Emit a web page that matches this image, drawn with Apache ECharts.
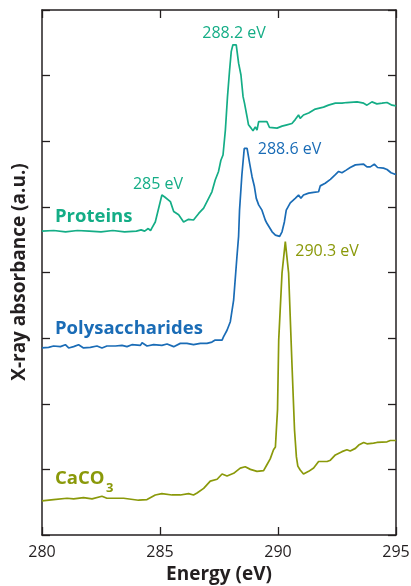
<!DOCTYPE html>
<html>
<head>
<meta charset="utf-8">
<script src="https://cdn.jsdelivr.net/npm/echarts@6/dist/echarts.min.js"></script>
<style>
  html, body { margin: 0; padding: 0; background: #fff; }
  #main { width: 411px; height: 586px; }
</style>
</head>
<body>
<div id="main"></div>
<script>
// spectra: [energy (eV), absorbance (a.u.)]
var proteins = [[280.0,4.63],[280.5,4.64],[281.0,4.62],[281.5,4.64],[282.0,4.63],[282.5,4.62],[283.0,4.64],[283.5,4.62],[284.0,4.63],[284.2,4.65],[284.35,4.63],[284.5,4.67],[284.6,4.64],[284.66,4.68],[284.8,4.77],[285.08,5.18],[285.2,5.15],[285.44,5.08],[285.58,4.93],[285.79,4.88],[286.0,4.77],[286.21,4.81],[286.42,4.80],[286.64,4.90],[286.85,4.98],[287.06,5.13],[287.2,5.23],[287.34,5.41],[287.48,5.54],[287.58,5.71],[287.67,5.79],[287.77,6.17],[287.86,6.68],[287.95,7.09],[288.02,7.37],[288.09,7.47],[288.23,7.47],[288.33,7.19],[288.43,7.01],[288.52,6.68],[288.58,6.58],[288.69,6.37],[288.75,6.25],[288.86,6.20],[288.94,6.16],[289.04,6.22],[289.11,6.17],[289.18,6.30],[289.53,6.30],[289.64,6.21],[289.96,6.20],[290.17,6.23],[290.38,6.25],[290.59,6.27],[290.73,6.33],[290.87,6.40],[290.94,6.35],[291.08,6.40],[291.3,6.43],[291.58,6.49],[291.65,6.50],[291.93,6.52],[292.14,6.55],[292.43,6.58],[292.71,6.58],[292.92,6.59],[293.35,6.60],[293.63,6.58],[293.77,6.55],[293.98,6.60],[294.19,6.57],[294.41,6.58],[294.62,6.59],[294.83,6.55],[295.0,6.54]];

var polysaccharides = [[280.0,2.85],[280.07,2.82],[280.28,2.86],[280.49,2.88],[280.78,2.87],[280.99,2.90],[281.13,2.85],[281.34,2.87],[281.55,2.90],[281.76,2.85],[282.05,2.86],[282.33,2.88],[282.54,2.85],[282.75,2.88],[283.11,2.88],[283.39,2.89],[283.6,2.87],[283.81,2.90],[284.17,2.89],[284.24,2.93],[284.45,2.88],[284.73,2.90],[285.08,2.89],[285.3,2.91],[285.58,2.87],[285.86,2.92],[286.14,2.92],[286.42,2.90],[286.71,2.92],[286.99,2.92],[287.2,2.94],[287.34,2.97],[287.63,2.97],[287.69,3.02],[287.84,3.12],[287.98,3.25],[288.12,3.58],[288.26,4.24],[288.33,4.55],[288.37,4.95],[288.47,5.49],[288.57,5.89],[288.69,5.89],[288.8,5.66],[288.9,5.46],[289.0,5.31],[289.08,5.13],[289.18,5.03],[289.32,4.95],[289.46,4.80],[289.53,4.75],[289.75,4.62],[289.89,4.57],[289.96,4.60],[290.07,4.55],[290.17,4.62],[290.27,4.77],[290.35,4.95],[290.52,5.06],[290.73,5.13],[290.87,5.18],[290.97,5.13],[291.08,5.18],[291.3,5.21],[291.51,5.22],[291.72,5.23],[291.79,5.32],[292.0,5.36],[292.22,5.42],[292.43,5.49],[292.57,5.54],[292.71,5.52],[292.89,5.56],[293.06,5.60],[293.28,5.64],[293.63,5.65],[293.77,5.61],[293.91,5.61],[294.08,5.65],[294.22,5.60],[294.47,5.59],[294.62,5.57],[294.79,5.52],[294.93,5.50],[295.0,5.50]];

var caco3 = [[280.0,0.52],[280.07,0.52],[280.49,0.54],[281.06,0.56],[281.34,0.55],[281.76,0.57],[282.12,0.55],[282.54,0.59],[282.75,0.56],[283.46,0.56],[284.09,0.53],[284.45,0.54],[284.8,0.61],[285.08,0.63],[285.51,0.61],[285.86,0.61],[286.21,0.63],[286.42,0.61],[286.57,0.64],[286.85,0.71],[287.13,0.82],[287.42,0.85],[287.63,0.93],[287.84,0.90],[288.12,0.94],[288.4,1.02],[288.61,1.04],[288.83,1.00],[289.11,0.97],[289.39,0.98],[289.53,1.07],[289.67,1.16],[289.81,1.30],[289.89,1.34],[289.93,1.60],[289.98,1.91],[290.03,2.97],[290.17,3.99],[290.31,4.47],[290.45,3.99],[290.59,2.62],[290.7,1.60],[290.78,1.19],[290.84,1.05],[290.94,0.99],[291.08,0.93],[291.3,0.97],[291.51,1.02],[291.72,1.12],[292.08,1.12],[292.22,1.14],[292.43,1.22],[292.71,1.27],[292.92,1.30],[293.06,1.28],[293.28,1.32],[293.42,1.37],[293.63,1.41],[293.77,1.39],[294.05,1.40],[294.19,1.41],[294.62,1.42],[294.76,1.44],[295.0,1.44]];

var xTicks = [280, 285, 290, 295];

var green = '#14ad86', blue = '#1a6cb6', olive = '#8a990a', ink = '#231f20';
var font = '"Open Sans", sans-serif';

var myChart = echarts.init(document.getElementById('main'));

function txt(x, y, text, color, size, weight, align) {
    return {
        type: 'text', x: x, y: y,
        style: {
            text: text, fill: color, align: align || 'center', verticalAlign: 'middle',
            font: (weight || 'normal') + ' ' + size + 'px ' + font
        }
    };
}

var tickStyle = { show: true, inside: true, length: 8, lineStyle: { color: ink, width: 1.3 } };
var lineAx = { show: true, onZero: false, lineStyle: { color: ink, width: 1.5 } };

option = {
    animation: false,
    grid: { left: 42, right: 15, top: 10, bottom: 51, containLabel: false, outerBoundsMode: 'none' },
    xAxis: [
        {
            type: 'value', min: 280, max: 295, interval: 5,
            axisLine: lineAx, axisTick: tickStyle, splitLine: { show: false },
            axisLabel: {
                color: ink, fontSize: 16, fontFamily: font, margin: 9,
                formatter: function (v) { return xTicks.indexOf(v) >= 0 ? v : ''; }
            },
            name: 'Energy (eV)', nameLocation: 'middle', nameGap: 30,
            nameTextStyle: { color: ink, fontSize: 19, fontWeight: 'bold', fontFamily: font }
        },
        {
            type: 'value', position: 'top', min: 280, max: 295, interval: 5,
            axisLine: lineAx, axisTick: tickStyle, axisLabel: { show: false }, splitLine: { show: false }
        }
    ],
    yAxis: [
        {
            type: 'value', min: 0, max: 8, interval: 1,
            axisLine: lineAx, axisTick: tickStyle, axisLabel: { show: false }, splitLine: { show: false }
        },
        {
            type: 'value', position: 'right', min: 0, max: 8, interval: 1,
            axisLine: lineAx, axisTick: tickStyle, axisLabel: { show: false }, splitLine: { show: false }
        }
    ],
    graphic: [
        {
            type: 'text', x: 20, y: 272, rotation: Math.PI / 2,
            style: {
                text: 'X-ray absorbance (a.u.)', fill: ink, align: 'center', verticalAlign: 'middle',
                font: 'bold 19px ' + font
            }
        },
        txt(234, 33, '288.2 eV', green, 16),
        txt(158, 184, '285 eV', green, 16),
        txt(289.5, 149, '288.6 eV', blue, 16),
        txt(327, 251, '290.3 eV', olive, 16),
        txt(55, 217, 'Proteins', green, 18.5, 'bold', 'left'),
        txt(55, 329, 'Polysaccharides', blue, 18.5, 'bold', 'left'),
        txt(55, 479, 'CaCO', olive, 18.5, 'bold', 'left'),
        txt(106, 488, '3', olive, 13, 'bold', 'left')
    ],
    series: [
        { name: 'Proteins', type: 'line', data: proteins, showSymbol: false, lineStyle: { color: green, width: 1.7 } },
        { name: 'Polysaccharides', type: 'line', data: polysaccharides, showSymbol: false, lineStyle: { color: blue, width: 1.7 } },
        { name: 'CaCO3', type: 'line', data: caco3, showSymbol: false, lineStyle: { color: olive, width: 1.7 } }
    ]
};

myChart.setOption(option);
</script>
</body>
</html>
